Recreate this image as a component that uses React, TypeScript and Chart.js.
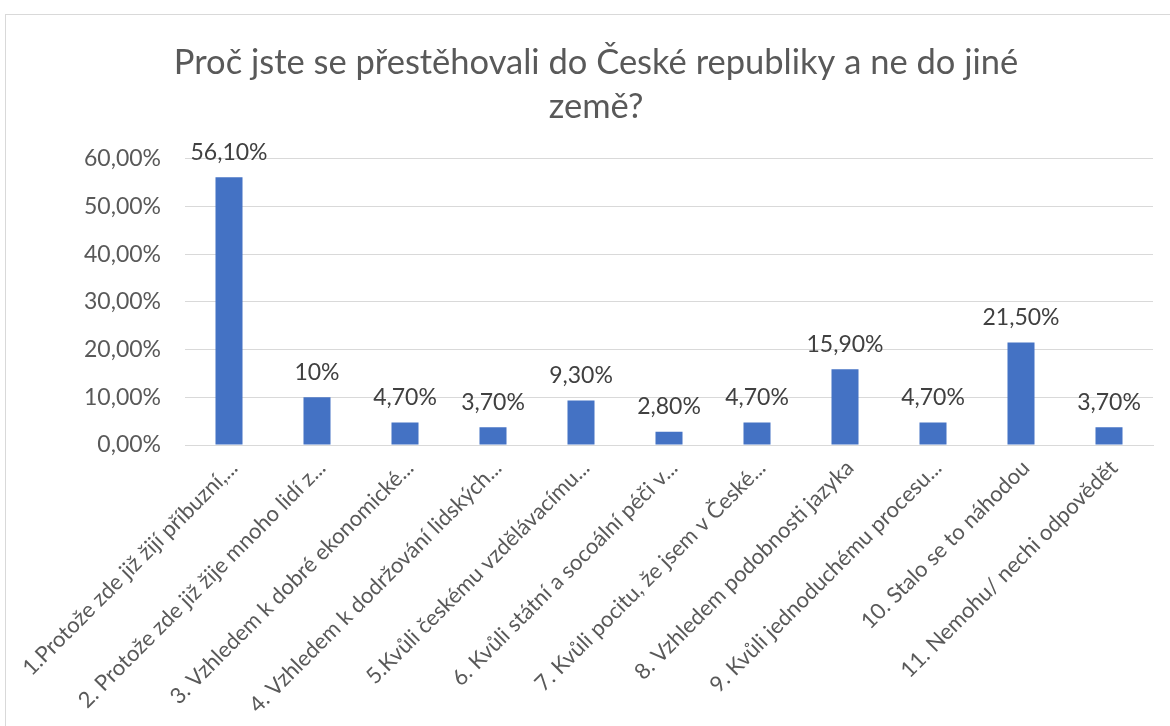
import React, { useEffect, useRef } from "react";
import { Chart, registerables } from "chart.js";

Chart.register(...registerables);

const titleLines = ["Proč jste se přestěhovali do České republiky a ne do jiné", "země?"];

const categories = [
  "1.Protože zde již žijí příbuzní,...",
  "2. Protože zde již žije mnoho lidí z...",
  "3. Vzhledem k dobré ekonomické...",
  "4. Vzhledem k dodržování lidských...",
  "5.Kvůli českému vzdělávacímu...",
  "6. Kvůli státní a socoální péči v...",
  "7. Kvůli pocitu, že jsem v České...",
  "8. Vzhledem podobnosti jazyka",
  "9. Kvůli jednoduchému procesu...",
  "10. Stalo se to náhodou",
  "11. Nemohu/ nechi odpovědět",
];

const values = [56.1, 10, 4.7, 3.7, 9.3, 2.8, 4.7, 15.9, 4.7, 21.5, 3.7];

const valueLabels = ["56,10%", "10%", "4,70%", "3,70%", "9,30%", "2,80%", "4,70%", "15,90%", "4,70%", "21,50%", "3,70%"];

const yTicks = [0, 10, 20, 30, 40, 50, 60];

const FONT = "Lato, 'Noto Sans', sans-serif";

const dataLabelPlugin = {
  id: "dataLabels",
  afterDatasetsDraw(chart: any) {
    const ctx = chart.ctx;
    const meta = chart.getDatasetMeta(0);
    ctx.save();
    ctx.font = `23px ${FONT}`;
    ctx.fillStyle = "#404040";
    ctx.textAlign = "center";
    ctx.textBaseline = "middle";
    meta.data.forEach((bar: any, i: number) => {
      ctx.fillText(valueLabels[i], bar.x, bar.y - 25);
    });
    ctx.restore();
  },
};

export default function App() {
  const ref = useRef<HTMLCanvasElement>(null);
  useEffect(() => {
    if (!ref.current) return;
    const chart = new Chart(ref.current, {
      type: "bar",
      data: {
        labels: categories,
        datasets: [
          {
            data: values,
            backgroundColor: "#4472C4",
            barPercentage: 0.307,
            categoryPercentage: 1,
          },
        ],
      },
      options: {
        animation: false,
        responsive: false,
        maintainAspectRatio: false,
        layout: { padding: { left: 33, right: 17, top: 0, bottom: 0 } },
        plugins: {
          legend: { display: false },
          tooltip: { enabled: false },
          title: {
            display: true,
            text: titleLines,
            color: "#595959",
            font: { family: FONT, size: 34.5, weight: "normal", lineHeight: 1.3 },
            padding: { top: 25, bottom: 29 },
          },
        },
        scales: {
          x: {
            grid: { display: false, drawTicks: false },
            border: { display: true, color: "#d9d9d9", width: 1 },
            ticks: {
              autoSkip: false,
              minRotation: 45,
              maxRotation: 45,
              color: "#595959",
              font: { family: FONT, size: 22 },
              padding: 10,
              labelOffset: 5,
            },
            afterFit(scale: any) {
              scale.height = 281;
              scale.paddingLeft = 0;
              scale.paddingRight = 0;
            },
          },
          y: {
            min: 0,
            max: 60,
            afterBuildTicks(scale: any) {
              scale.ticks = yTicks.map((v) => ({ value: v }));
            },
            grid: { color: "#d9d9d9", drawTicks: false },
            border: { display: false },
            ticks: {
              color: "#595959",
              font: { family: FONT, size: 23 },
              padding: 24,
              callback: (v: any) => Number(v).toFixed(2).replace(".", ",") + "%",
            },
            afterFit(scale: any) {
              scale.width = 146;
            },
          },
        },
      },
      plugins: [dataLabelPlugin],
    });
    return () => chart.destroy();
  }, []);
  return (
    <div
      style={{
        position: "absolute",
        left: 5,
        top: 14,
        width: 1170,
        height: 720,
        border: "1px solid #d9d9d9",
        background: "#fff",
      }}
    >
      <canvas ref={ref} width={1164} height={711} style={{ display: "block" }} />
    </div>
  );
}
